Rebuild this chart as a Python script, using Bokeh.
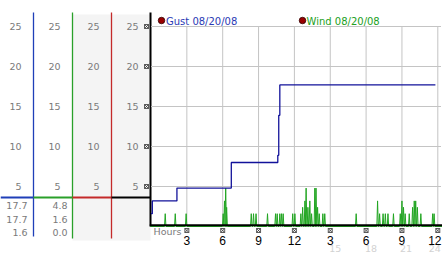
from bokeh.plotting import figure
from bokeh.models import Range1d
from bokeh.embed import file_html
from bokeh.resources import INLINE
from bokeh.core.properties import value

# ---------------- data ----------------
# Gust (mph) as a step series: change times (hours since midnight) and values
gust_hours = [0.0, 0.11, 2.17, 6.72, 10.61, 10.69, 10.78, 23.8]
gust_mph = [1.6, 3.2, 4.8, 8.0, 8.9, 13.9, 17.7, 17.7]

# Wind (mph): non-zero samples (everything else is calm, 0 mph)
wind_hours = [1.19, 2.03, 2.94, 6.04, 6.15, 6.25, 6.33, 8.39, 8.58, 8.79, 9.75,
              10.42, 10.56, 10.78, 10.92, 11.06, 11.86, 12.04, 12.54, 12.69, 12.88,
              12.98, 13.13, 13.29, 13.44, 13.71, 13.81, 13.94, 14.08, 14.38, 14.54,
              17.17, 18.96, 19.13, 19.42, 19.61, 19.83, 20.29, 20.86, 21.0, 21.13,
              21.27, 21.61, 21.89, 22.03, 22.15, 22.29, 22.58, 23.57, 23.69]
wind_mph = [1.6, 1.6, 1.6, 1.6, 3.2, 4.8, 2.4, 1.6, 1.6, 1.6, 1.6,
            1.6, 1.6, 1.6, 1.6, 1.6, 1.6, 1.6, 1.6, 2.4, 3.2,
            4.8, 2.4, 3.2, 1.6, 4.8, 4.8, 2.4, 1.6, 1.6, 1.6,
            1.6, 3.2, 1.6, 1.6, 1.6, 1.6, 1.6, 1.6, 3.2, 2.4,
            1.6, 1.6, 2.4, 3.2, 3.2, 2.4, 1.6, 1.6, 1.6]

y_ticks = [5, 10, 15, 20, 25]
x_ticks = [3, 6, 9, 12, 15, 18, 21, 24]
x_tick_labels = ["3", "6", "9", "12", "3", "6", "9", "12"]
x_ticks_24h = [15, 18, 21, 24]
x_tick_labels_24h = ["15", "18", "21", "24"]

gust_label = "Gust 08/20/08"
wind_label = "Wind 08/20/08"
gust_stats = ["17.7", "17.7", "1.6"]
wind_stats = ["4.8", "1.6", "0.0"]

# ---------------- layout constants ----------------
W, H = 442, 253
X0_PX, PX_PER_HR = 150.5, 11.95
Y0_PX, PX_PER_MPH = 226, 8
COL_EDGES = [0, 33, 72, 111, 150]
COL_COLORS = ["#1f3fb8", "#2aa02a", "#c42a2a", "#000000"]
GRAY_TXT = "#7a7a7a"
GRID = "#c4c4c4"
BLUE = "#12129a"
GREEN = "#22a522"
FONT = value("DejaVu Sans")

p = figure(width=W, height=H, output_backend="svg", toolbar_location=None,
           x_axis_location=None, y_axis_location=None, min_border=0,
           x_range=Range1d(-X0_PX / PX_PER_HR, (W - X0_PX) / PX_PER_HR),
           y_range=Range1d(-(H - Y0_PX) / PX_PER_MPH, Y0_PX / PX_PER_MPH))
p.extra_x_ranges = {"px": Range1d(0, W)}
p.extra_y_ranges = {"py": Range1d(H, 0)}
p.xgrid.visible = False
p.ygrid.visible = False
p.outline_line_color = None
p.background_fill_color = "white"
p.border_fill_color = "white"

PX = dict(x_range_name="px", y_range_name="py")

# ---------------- left panel ----------------
p.quad(left=[COL_EDGES[2]], right=[COL_EDGES[4]], top=[14], bottom=[240],
       fill_color="#f4f4f4", line_color=None, **PX)
# column divider lines
p.segment(x0=COL_EDGES[1:4], y0=[12, 12, 12], x1=COL_EDGES[1:4], y1=[236, 238, 238],
          line_color=COL_COLORS[:3], line_width=1.3, **PX)
p.segment(x0=[COL_EDGES[4]], y0=[12], x1=[COL_EDGES[4]], y1=[226],
          line_color="black", line_width=2, **PX)
# horizontal colored rule
p.segment(x0=COL_EDGES[:4], y0=[197] * 4, x1=COL_EDGES[1:], y1=[197] * 4,
          line_color=COL_COLORS, line_width=2.2, **PX)
# tick labels in every column
for right in COL_EDGES[1:]:
    p.text(x=[right - 12] * len(y_ticks), y=y_ticks, text=[str(t) for t in y_ticks],
           x_range_name="px", text_align="right", text_baseline="middle",
           text_font=FONT, text_font_size="9.5px", text_color=GRAY_TXT)
p.scatter(x=[146] * len(y_ticks), y=y_ticks, marker="square_x", size=4,
          line_color="#333333", fill_color=None, line_width=0.8, x_range_name="px")
# stats
rows_py = [205, 219, 232]
p.text(x=[27] * 3, y=rows_py, text=gust_stats, text_align="right", text_baseline="middle",
       text_font=FONT, text_font_size="9.5px", text_color=GRAY_TXT, **PX)
p.text(x=[67] * 3, y=rows_py, text=wind_stats, text_align="right", text_baseline="middle",
       text_font=FONT, text_font_size="9.5px", text_color=GRAY_TXT, **PX)

# ---------------- main plot ----------------
x_end = (W - 1.5 - X0_PX) / PX_PER_HR
# grid
p.segment(x0=x_ticks, y0=[0] * len(x_ticks), x1=x_ticks, y1=[max(y_ticks)] * len(x_ticks),
          line_color=GRID, line_width=1)
p.segment(x0=[0] * len(y_ticks), y0=y_ticks, x1=[x_end] * len(y_ticks), y1=y_ticks,
          line_color=GRID, line_width=1)

# wind line (spikes from the calm baseline)
wx, wy = [-0.05], [0.0]
for h, v in zip(wind_hours, wind_mph):
    wx += [h - 0.06, h, h + 0.06]
    wy += [0.0, v, 0.0]
wx.append(x_end + 0.1)
wy.append(0.0)
p.line(wx, wy, line_color=GREEN, line_width=1)

# x axis line
p.segment(x0=[-0.1], y0=[0.16], x1=[x_end + 0.2], y1=[0.16], line_color="black", line_width=2)

# gust step line
p.step(gust_hours, gust_mph, mode="after", line_color=BLUE, line_width=1.3)

# x ticks: markers, labels (last label nudged inward so it stays on the canvas)
p.scatter(x=x_ticks, y=[-0.5] * len(x_ticks), marker="square_x", size=4,
          line_color="#333333", fill_color=None, line_width=0.8)
p.text(x=x_ticks, y=[240] * len(x_ticks), text=x_tick_labels, y_range_name="py",
       x_offset=[0] * (len(x_ticks) - 1) + [-3],
       text_align="center", text_baseline="middle", text_font=value("Liberation Sans"),
       text_font_size="12px", text_color="black")
p.text(x=x_ticks_24h, y=[247.5] * len(x_ticks_24h), text=x_tick_labels_24h, y_range_name="py",
       x_offset=[5, 5, 4, -3],
       text_align="center", text_baseline="middle", text_font=FONT,
       text_font_size="9.5px", text_color="#d2d2d2")
p.text(x=[153], y=[231], text=["Hours"], text_align="left", text_baseline="middle",
       text_font=FONT, text_font_size="9.5px", text_color=GRAY_TXT, **PX)

# legend
p.scatter(x=[161, 302], y=[20, 20], marker="circle", size=6.5, fill_color="#9a0000",
          line_color="#300000", line_width=0.8, **PX)
p.text(x=[165.5], y=[20.5], text=[gust_label], text_align="left", text_baseline="middle",
       text_font=FONT, text_font_size="10px", text_color="#2a3ab4", **PX)
p.text(x=[306], y=[20.5], text=[wind_label], text_align="left", text_baseline="middle",
       text_font=FONT, text_font_size="10px", text_color="#22a022", **PX)

open("out.html", "w").write(file_html(p, INLINE))
